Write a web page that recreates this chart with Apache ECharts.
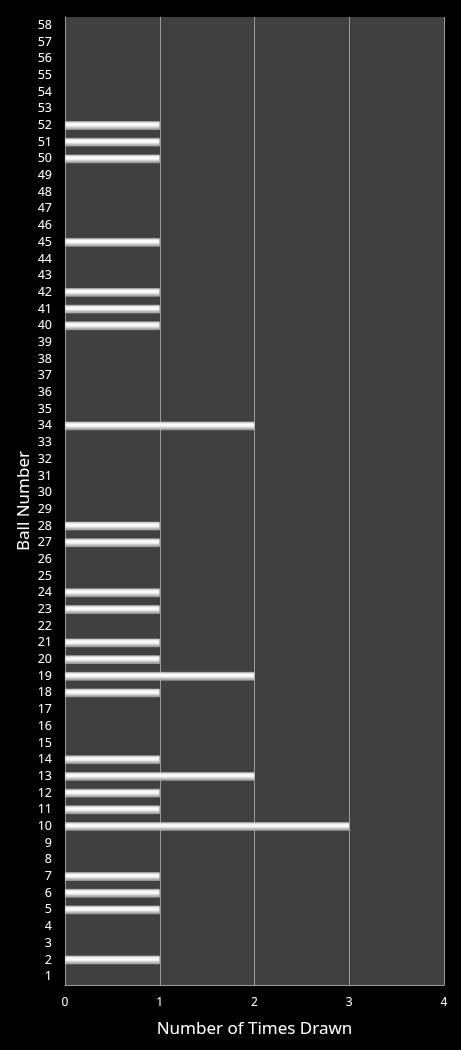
<!DOCTYPE html>
<html><head><meta charset="utf-8">
<script src="https://cdn.jsdelivr.net/npm/echarts@6/dist/echarts.min.js"></script>
<style>html,body{margin:0;padding:0;background:#000;}#c{width:461px;height:1050px;}</style>
</head><body><div id="c"></div>
<script>
var balls = [];
for (var i = 1; i <= 58; i++) balls.push(String(i));
var drawnBalls = [2,5,6,7,10,11,12,13,14,18,19,20,21,23,24,27,28,34,40,41,42,45,50,51,52];
var drawnCounts = [1,1,1,1,3,1,1,2,1,1,2,1,1,1,1,1,1,2,1,1,1,1,1,1,1];
var xTicks = [0,1,2,3,4];

var values = balls.map(function(b){
  var k = drawnBalls.indexOf(Number(b));
  return k >= 0 ? drawnCounts[k] : '-';
});

var chart = echarts.init(document.getElementById('c'), null, {renderer:'canvas'});
var font = 'Noto Sans';
chart.setOption({
  backgroundColor: '#000',
  animation: false,
  grid: {left: 65, right: 17, top: 17, bottom: 65, containLabel: false, show: true, backgroundColor: '#404040', borderWidth: 0},
  xAxis: {
    type: 'value', min: 0, max: 4, interval: 1,
    name: 'Number of Times Drawn', nameLocation: 'middle', nameGap: 36,
    nameTextStyle: {color: '#fff', fontSize: 17, fontFamily: font},
    axisLine: {show: true, lineStyle: {color: '#9a9a9a', width: 1}},
    axisTick: {show: false},
    axisLabel: {color: '#fff', fontSize: 12, fontFamily: font, margin: 12,
      formatter: function(v){ return xTicks.indexOf(v) >= 0 ? String(v) : ''; }},
    splitLine: {show: true, lineStyle: {color: '#9a9a9a', width: 1}}
  },
  yAxis: {
    type: 'category', data: balls,
    name: 'Ball Number', nameLocation: 'middle', nameGap: 32, nameRotate: 90,
    nameMoveOverlap: false,
    nameTextStyle: {color: '#fff', fontSize: 17, fontFamily: font},
    axisLine: {show: true, lineStyle: {color: '#9a9a9a', width: 1}},
    axisTick: {show: false},
    axisLabel: {color: '#fff', fontSize: 12.5, fontFamily: font, margin: 13, interval: 0},
    splitLine: {show: false}
  },
  series: [{
    type: 'bar', data: values, barCategoryGap: '50%',
    itemStyle: {
      color: new echarts.graphic.LinearGradient(0,0,0,1,[
        {offset:0, color:'#b8b8b8'},
        {offset:0.3, color:'#ffffff'},
        {offset:0.55, color:'#f4f4f4'},
        {offset:1, color:'#8a8a8a'}
      ]),
      borderColor: '#cfcfcf', borderWidth: 0.5
    }
  }]
});
</script></body></html>
